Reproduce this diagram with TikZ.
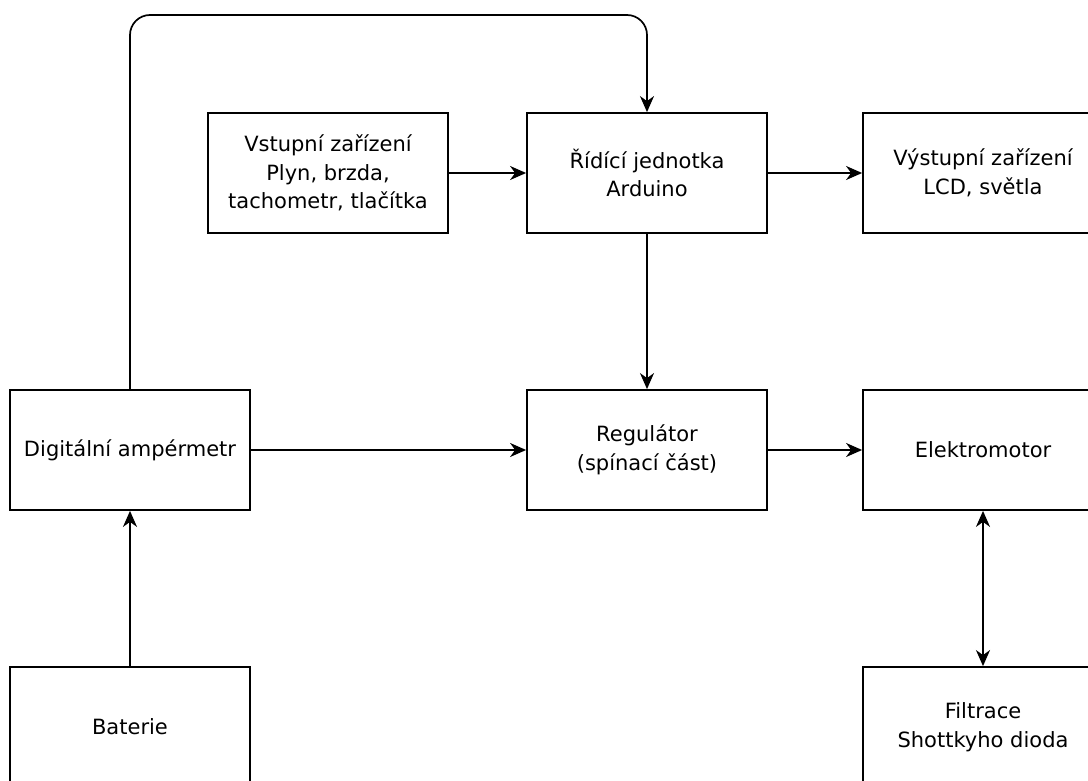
\documentclass[tikz,border=0pt]{standalone}
\usepackage{fontspec}
\setmainfont{DejaVu Sans}
\usetikzlibrary{arrows.meta}
\begin{document}
\begin{tikzpicture}[x=1pt,y=-1pt,
  blok/.style={draw,line width=1.8pt,minimum width=240pt,minimum height=120pt,align=center,font=\fontsize{21}{28.5}\selectfont,inner sep=0pt},
  hrot/.style={Stealth[length=16pt,width=14pt,inset=5pt]},
  sip/.style={line width=1.7pt,-{Stealth[length=16pt,width=14pt,inset=5pt]}},
  dsip/.style={line width=1.7pt,{Stealth[length=16pt,width=14pt,inset=5pt]}-{Stealth[length=16pt,width=14pt,inset=5pt]}}]
\useasboundingbox (0,0) rectangle (1088,781);
\clip (0,0) rectangle (1088,781);
\fill[white] (0,0) rectangle (1088,781);
\node[blok] (vst) at (328,173) {Vstupní zařízení\\Plyn, brzda,\\tachometr, tlačítka};
\node[blok] (rid) at (647,173) {Řídící jednotka\\Arduino};
\node[blok] (vys) at (983,173) {Výstupní zařízení\\LCD, světla};
\node[blok] (amp) at (130,450) {Digitální ampérmetr};
\node[blok] (reg) at (647,450) {Regulátor\\(spínací část)};
\node[blok] (ele) at (983,450) {Elektromotor};
\node[blok] (bat) at (130,727) {Baterie};
\node[blok] (fil) at (983,727) {Filtrace\\Shottkyho dioda};
\coordinate (c1) at (130,15);
\coordinate (c2) at (647,15);
\draw[sip,rounded corners=20pt] (amp.north) -- (c1) -- (c2) -- (rid.north);
\draw[sip] (vst) -- (rid);
\draw[sip] (rid) -- (vys);
\draw[sip] (rid) -- (reg);
\draw[sip] (amp) -- (reg);
\draw[sip] (reg) -- (ele);
\draw[sip] (bat) -- (amp);
\draw[dsip] (fil) -- (ele);
\end{tikzpicture}
\end{document}
